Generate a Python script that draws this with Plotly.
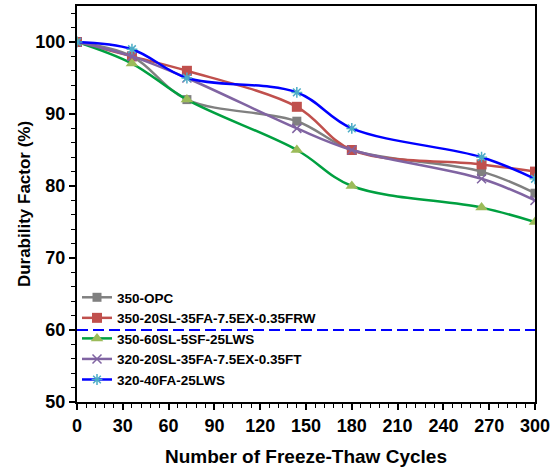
import plotly.graph_objects as go

cycles = [0, 36, 72, 144, 180, 265, 300]
opc = [100, 98, 92, 89, 85, 82, 79]
frw = [100, 98, 96, 91, 85, 83, 82]
lws60 = [100, 97, 92, 85, 80, 77, 75]
ft = [100, 98, 95, 88, 85, 81, 78]
lws40 = [100, 99, 95, 93, 88, 84, 81]
threshold = 60
names = ["350-OPC", "350-20SL-35FA-7.5EX-0.35FRW", "350-60SL-5SF-25LWS",
         "320-20SL-35FA-7.5EX-0.35FT", "320-40FA-25LWS"]

series = [opc, frw, lws60, ft, lws40]
line_colors = ["#808080", "#C0504D", "#00A040", "#8064A2", "#0000FF"]
marker_colors = ["#808080", "#C0504D", "#9BBB59", "#8064A2", "#4BACC6"]
symbols = ["square", "square", "triangle-up", "x-thin-open", "asterisk-open"]
sizes = [9, 10, 11, 9, 9]

fig = go.Figure()
for nm, ys, lc, mc, sym, sz in zip(names, series, line_colors, marker_colors, symbols, sizes):
    marker = dict(symbol=sym, size=sz, color=mc)
    if sym.endswith("open"):
        marker["line"] = dict(color=mc, width=1.5)
    fig.add_trace(go.Scatter(
        x=cycles, y=ys, name=nm, mode="lines+markers",
        line=dict(color=lc, width=2.5, shape="spline", smoothing=1.0),
        marker=marker))

fig.add_trace(go.Scatter(
    x=[cycles[0], cycles[-1]], y=[threshold, threshold], mode="lines",
    line=dict(color="#0000FF", width=2.2, dash="11px,5px"), showlegend=False,
    hoverinfo="skip"))

fig.update_layout(
    width=551, height=469,
    paper_bgcolor="white", plot_bgcolor="white",
    margin=dict(l=77, r=16, t=6, b=67),
    font=dict(family="Arial, Liberation Sans", color="black"),
    legend=dict(x=0.0, y=0.303, xanchor="left", yanchor="top",
                bgcolor="rgba(0,0,0,0)",
                font=dict(size=13.5, family="Arial, Liberation Sans", weight="bold"),
                tracegroupgap=0),
)
fig.update_xaxes(
    range=[0, 300], tickvals=list(range(0, 301, 30)), automargin=False,
    ticks="outside", ticklen=6, tickwidth=1.5, tickcolor="black",
    minor=dict(ticks="outside", ticklen=4, dtick=6, tickcolor="black", tickwidth=1),
    showline=True, linecolor="black", linewidth=2, mirror=True,
    showgrid=False, zeroline=False,
    tickfont=dict(size=18, weight="bold"),
    title=dict(text="Number of Freeze-Thaw Cycles", font=dict(size=19, weight="bold")),
)
fig.update_yaxes(
    range=[50, 105], tickvals=list(range(50, 101, 10)), automargin=True,
    ticks="outside", ticklen=6, tickwidth=1.5, tickcolor="black",
    minor=dict(ticks="outside", ticklen=4, dtick=2, tickcolor="black", tickwidth=1),
    showline=True, linecolor="black", linewidth=2, mirror=True,
    showgrid=False, zeroline=False,
    tickfont=dict(size=18, weight="bold"),
    title=dict(text="Durability Factor (%)", font=dict(size=17, weight="bold"), standoff=0),
)

fig.write_html("out.html", config={"displayModeBar": False},
               post_script="document.body.style.margin='0px';")
